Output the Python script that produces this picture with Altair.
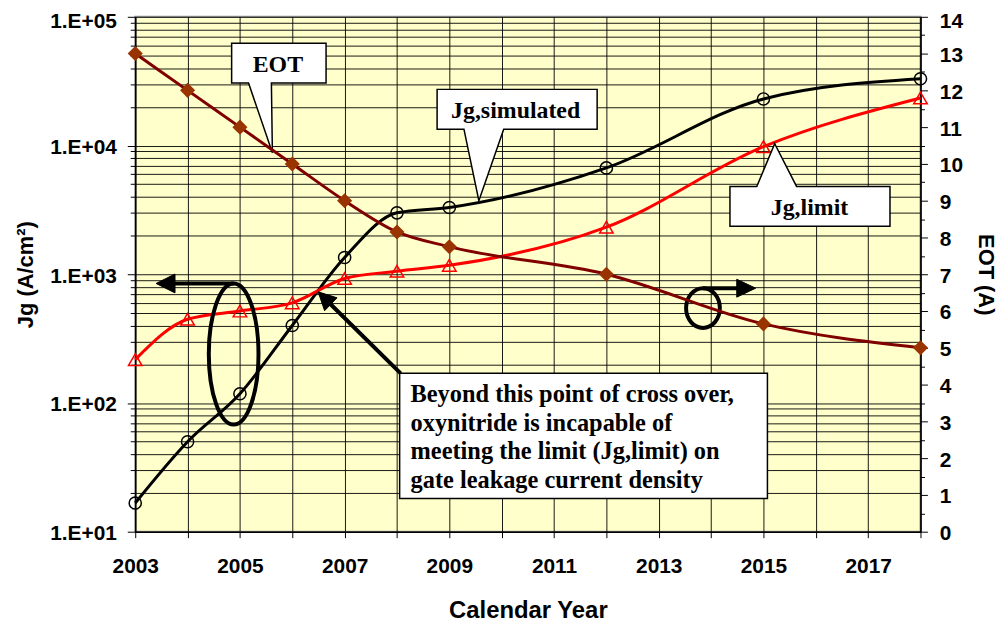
import altair as alt
import pandas as pd

# ---------------- data ----------------
years = [2003, 2004, 2005, 2006, 2007, 2008, 2009, 2012, 2015, 2018]
jg_simulated = [16.7, 50, 118, 400, 1350, 3000, 3300, 6700, 23000, 33000]
jg_limit = [217, 447, 518, 600, 927, 1055, 1173, 2320, 9800, 23400]
eot = [13.0, 12.0, 11.0, 10.0, 9.0, 8.15, 7.75, 7.0, 5.65, 5.0]

x_ticks = list(range(2003, 2019))
jg_decades = [10, 100, 1000, 10000, 100000]
jg_ticks = [m * d for d in [10, 100, 1000, 10000] for m in range(1, 10)] + [100000]
eot_ticks = [i / 2 for i in range(0, 29)]

# annotation anchors in data units (year, Jg)
callout_labels = ["EOT", "Jg,simulated", "Jg,limit"]
callout_years = [2005.62, 2009.564, 2015.215]
callout_jg = [8800, 3727, 10330]
note_year = [2006.494]
note_jg = [730]
note_lines = [
    "Beyond this point of cross over,",
    "oxynitride is incapable of",
    "meeting the limit (Jg,limit) on",
    "gate leakage current density",
]
ring_years = [2004.88, 2013.845]
ring_jg = [240, 546]

# ---------------- frames ----------------
df = pd.DataFrame({"year": years, "sim": jg_simulated, "lim": jg_limit, "eot": eot})

def anchor(yr, j):
    return pd.DataFrame({"year": [yr], "jg": [j]})

SANS = "Liberation Sans"
SERIF = "Liberation Serif"
dec_test = "indexof([10,100,1000,10000,100000], datum.value) >= 0"

x_enc = alt.X(
    "year:Q",
    scale=alt.Scale(domain=[2003, 2018], nice=False, zero=False),
    axis=alt.Axis(
        values=x_ticks,
        labelExpr="datum.value % 2 == 1 ? '' + datum.value : ''",
        title="Calendar Year",
        grid=True, gridColor="black", gridWidth=1, gridOpacity=0.9,
        tickSize=6, tickColor="black", domainColor="black", domainWidth=1.5,
        labelFont=SANS, labelFontWeight="bold", labelFontSize=21, labelPadding=18,
        labelFlush=False, labelOverlap=False, labelColor="black",
        titleFont=SANS, titleFontWeight="bold", titleFontSize=24, titlePadding=22,
        titleColor="black",
    ),
)

def y_jg(field):
    return alt.Y(
        f"{field}:Q",
        scale=alt.Scale(type="log", domain=[10, 100000], nice=False),
        axis=alt.Axis(
            values=jg_ticks,
            labelExpr=f"{dec_test} ? '1.E+0' + round(log(datum.value)/LN10) : ''",
            title="Jg (A/cm²)",
            grid=True, gridColor="black", gridWidth=1, gridOpacity=0.9,
            tickSize={"condition": {"test": dec_test, "value": 8}, "value": 5},
            tickColor="black", domainColor="black", domainWidth=1.5,
            labelFont=SANS, labelFontWeight="bold", labelFontSize=21, labelPadding=11,
            labelOffset={"condition": {"test": "datum.value == 100000", "value": 4.5}, "value": 2},
            labelFlush=False, labelOverlap=False, labelColor="black",
            titleFont=SANS, titleFontWeight="bold", titleFontSize=22, titlePadding=12,
            titleColor="black",
        ),
    )

y_eot = alt.Y(
    "eot:Q",
    scale=alt.Scale(domain=[0, 14], nice=False),
    axis=alt.Axis(
        orient="right",
        values=eot_ticks,
        labelExpr="datum.value % 1 == 0 ? '' + datum.value : ''",
        title="EOT (A)",
        grid=False,
        tickSize={"condition": {"test": "datum.value % 1 == 0", "value": 7}, "value": 4},
        tickColor="black", domainColor="black", domainWidth=1.5,
        labelFont=SANS, labelFontWeight="bold", labelFontSize=21, labelPadding=12,
        labelOffset={"condition": {"test": "datum.value == 14", "value": 4.5}, "value": 2},
        labelFlush=False, labelOverlap=False, labelColor="black",
        titleFont=SANS, titleFontWeight="bold", titleFontSize=22, titlePadding=11,
        titleColor="black",
    ),
)

base = alt.Chart(df)

sim_line = base.mark_line(color="black", strokeWidth=3, interpolate="monotone").encode(x=x_enc, y=y_jg("sim"))
sim_pts = base.mark_point(shape="circle", size=150, color="black", strokeWidth=1.5,
                          filled=False, opacity=1).encode(x=x_enc, y=y_jg("sim"))
lim_line = base.mark_line(color="#ff0000", strokeWidth=3, interpolate="monotone").encode(x=x_enc, y=y_jg("lim"))
lim_pts = base.mark_point(shape="triangle-up", size=185, color="#ff0000", strokeWidth=1.5,
                          filled=False, opacity=1).encode(x=x_enc, y=y_jg("lim"))

eot_line = base.mark_line(color="#800000", strokeWidth=3, interpolate="monotone").encode(x=x_enc, y=y_eot)
eot_pts = base.mark_point(shape="diamond", size=230, color="#993300", filled=True,
                          opacity=1).encode(x=x_enc, y=y_eot)

# ---------------- annotations (shapes drawn in pixel offsets around data anchors) ----------------
def shape_mark(data, path, fill=None, stroke="black", sw=1.5):
    kw = dict(shape=path, size=4, stroke=stroke, strokeWidth=sw, opacity=1)
    if fill is None:
        kw["filled"] = False
    else:
        kw["filled"] = True
        kw["fill"] = fill
    return alt.Chart(data).mark_point(**kw).encode(x=x_enc, y=y_jg("jg"))

def text_mark(data, text, dx, dy, **kw):
    return alt.Chart(data).mark_text(
        text=text, font=SERIF, fontWeight="bold", fontSize=24, color="black",
        dx=dx, dy=dy, **kw
    ).encode(x=x_enc, y=y_jg("jg"))

def ellipse_path(rx, ry):
    k = 0.5523
    return (f"M0,{-ry} C{k*rx:.2f},{-ry} {rx},{-k*ry:.2f} {rx},0 "
            f"C{rx},{k*ry:.2f} {k*rx:.2f},{ry} 0,{ry} "
            f"C{-k*rx:.2f},{ry} {-rx},{k*ry:.2f} {-rx},0 "
            f"C{-rx},{-k*ry:.2f} {-k*rx:.2f},{-ry} 0,{-ry} Z")

a_eot = anchor(callout_years[0], callout_jg[0])
a_sim = anchor(callout_years[1], callout_jg[1])
a_lim = anchor(callout_years[2], callout_jg[2])
a_note = anchor(note_year[0], note_jg[0])
a_ring1 = anchor(ring_years[0], ring_jg[0])
a_ring2 = anchor(ring_years[1], ring_jg[1])

ann = [
    shape_mark(a_eot, "M-41,-110 L54,-110 L54,-70 L-1,-70 L0,0 L-24,-70 L-41,-70 Z", fill="white"),
    text_mark(a_eot, callout_labels[0], 5.5, -88, align="center", baseline="middle"),
    shape_mark(a_sim, "M-42,-112 L119,-112 L119,-72 L25,-72 L0,0 L-15,-72 L-42,-72 Z", fill="white"),
    text_mark(a_sim, callout_labels[1], 37, -90, align="center", baseline="middle"),
    shape_mark(a_lim, "M-45,43 L-18,43 L0,0 L22,43 L116,43 L116,83 L-45,83 Z", fill="white"),
    text_mark(a_lim, callout_labels[2], 35, 65, align="center", baseline="middle"),
    # note box + arrow
    shape_mark(a_note, "M82,82 L452,82 L452,208 L82,208 Z", fill="white"),
    shape_mark(a_note, "M10,10 L83,82", sw=4),
    shape_mark(a_note, "M0,0 L19,6 L6.5,19 Z", fill="black", sw=1),
    alt.Chart(a_note).mark_text(
        text=note_lines, font=SERIF, fontWeight="bold", fontSize=24.5, color="black",
        align="left", baseline="alphabetic", lineHeight=28.7, dx=93, dy=111
    ).encode(x=x_enc, y=y_jg("jg")),
    # left ring + arrow
    shape_mark(a_ring1, ellipse_path(25, 71), sw=4),
    shape_mark(a_ring1, "M0,-71 L-62,-71", sw=4),
    shape_mark(a_ring1, "M-78,-71 L-59,-80.5 L-59,-61.5 Z", fill="black", sw=1),
    # right ring + arrow
    shape_mark(a_ring2, ellipse_path(17, 20), sw=4),
    shape_mark(a_ring2, "M0,-20 L36,-20", sw=4),
    shape_mark(a_ring2, "M53,-20 L34,-29 L34,-11 Z", fill="black", sw=1),
]

jg_group = alt.layer(sim_line, lim_line, sim_pts, lim_pts, *ann)
eot_group = alt.layer(eot_line, eot_pts)

chart = (
    alt.layer(jg_group, eot_group)
    .resolve_scale(y="independent")
    .properties(
        width=790, height=518,
        padding={"left": 128, "top": 7, "right": 80, "bottom": 90},
        autosize=alt.AutoSizeParams(type="none"),
        background="white",
    )
    .configure_view(fill="#FFFFCC", stroke="#9a9a9a", strokeWidth=2)
)

chart.save("out.html", embed_options={"renderer": "svg", "actions": False})
